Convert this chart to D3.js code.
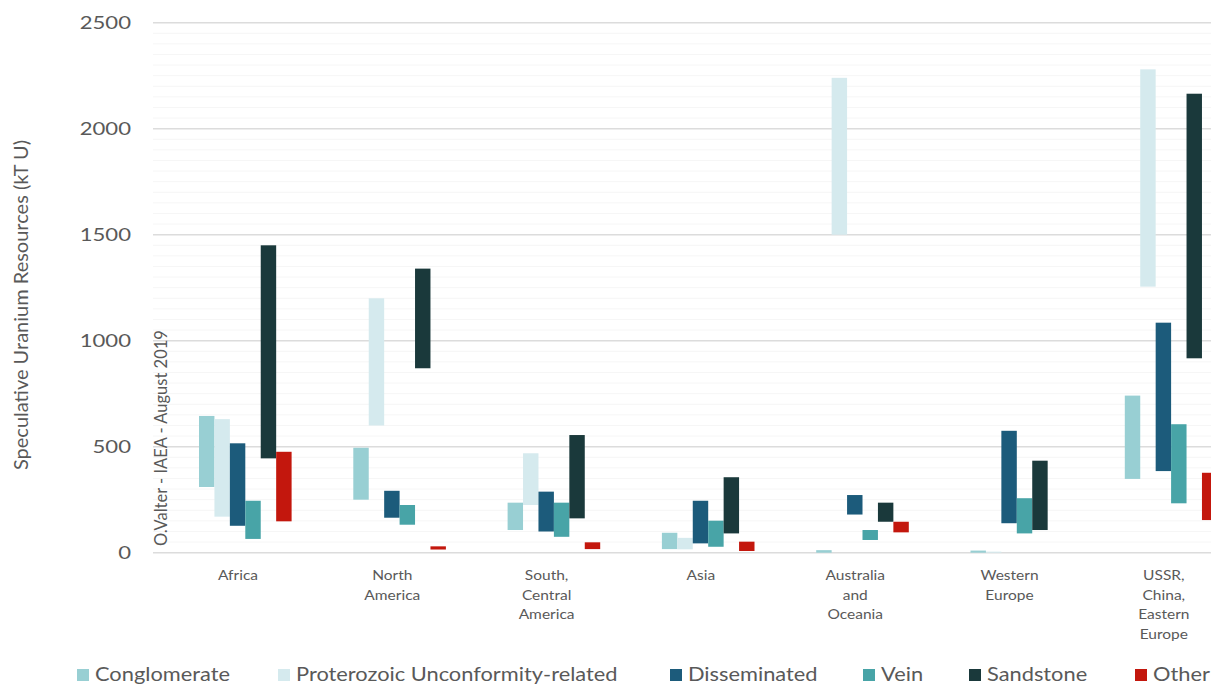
<!DOCTYPE html>
<html><head><meta charset="utf-8">
<script src="https://cdn.jsdelivr.net/npm/d3@7"></script>
<style>
body{margin:0;background:#fff;}
svg{display:block;}
text{font-family:Lato,"Open Sans",sans-serif;fill:#595959;}
</style></head>
<body><svg id="chart" width="1211" height="686"></svg>
<script>
// ---- data ----
const categories = ["Africa","North America","South, Central America","Asia","Australia and Oceania","Western Europe","USSR, China, Eastern Europe"];
const categoryLines = [["Africa"],["North","America"],["South,","Central","America"],["Asia"],["Australia","and","Oceania"],["Western","Europe"],["USSR,","China,","Eastern","Europe"]];
const seriesNames = ["Conglomerate","Proterozoic Unconformity-related","Disseminated","Vein","Sandstone","Other"];
const seriesColors = ["#98cfd3","#d5eaee","#1c5b7b","#48a4a7","#1a393b","#c3170d"];
// [low, high] ranges in kT U, per category
const conglomerate = [[310,645],[250,495],[107,236],[17,94],[0,12],[0,10],[348,741]];
const proterozoic  = [[170,630],[600,1200],[225,469],[16,70],[1500,2240],[0,5],[1255,2280]];
const disseminated = [[127,516],[165,292],[100,288],[44,245],[180,272],[139,575],[385,1085]];
const vein         = [[65,245],[132,225],[75,236],[28,151],[60,107],[91,257],[233,606]];
const sandstone    = [[445,1450],[870,1340],[162,555],[91,356],[146,236],[107,434],[917,2165]];
const other        = [[148,476],[15,30],[17,49],[8,52],[96,146],null,[154,377]];
const seriesValues = [conglomerate,proterozoic,disseminated,vein,sandstone,other];
const yTicks = [0,500,1000,1500,2000,2500];
const yTitle = "Speculative Uranium Resources (kT U)";
const watermark = "O.Valter - IAEA - August 2019";

// ---- layout ----
const svg = d3.select("#chart");
const W = 1211;
const y = d3.scaleLinear().domain([0,2500]).range([552.7,22.7]);
const bandW = 154.3;
const x = d3.scaleBand().domain(categories).range([160.85,160.85+7*bandW]);
const x1 = d3.scaleBand().domain(seriesNames).range([38.15,130.75]);
const gridX0 = 153;

// minor grid
const minor = d3.range(50,2500,50).filter(v=>v%500!==0);
svg.append("g").selectAll("line").data(minor).join("line")
  .attr("x1",gridX0).attr("x2",W).attr("y1",d=>y(d)).attr("y2",d=>y(d))
  .attr("stroke","#f6f6f6").attr("stroke-width",1);
// major grid
svg.append("g").selectAll("line").data(yTicks).join("line")
  .attr("x1",gridX0).attr("x2",W).attr("y1",d=>y(d)).attr("y2",d=>y(d))
  .attr("stroke","#dcdcdc").attr("stroke-width",1.6);

// y axis labels
const yAxis = d3.axisLeft(y).tickValues(yTicks).tickFormat(d3.format("d")).tickSize(0).tickPadding(0);
const ga = svg.append("g").attr("transform","translate(131,0)").call(yAxis);
ga.select(".domain").remove();
ga.selectAll("text").attr("font-family","Lato").attr("font-size",17).attr("fill","#595959")
  .attr("transform","scale(1.3,1)").attr("dy","0.35em").attr("x",0);

// y title
svg.append("text").attr("transform","translate(28,305) rotate(-90)")
  .attr("text-anchor","middle").attr("font-size",20).text(yTitle);

// watermark
svg.append("text").attr("transform","translate(167,546) rotate(-90)")
  .attr("font-size",16.5).attr("fill","#c4c4c4")
  .text(watermark);

// bars
const bars = svg.append("g");
seriesNames.forEach((s,i)=>{
  bars.append("g").attr("fill",seriesColors[i]).selectAll("rect")
    .data(categories.map((c,j)=>({c,r:seriesValues[i][j]})).filter(d=>d.r))
    .join("rect")
    .attr("x",d=>x(d.c)+x1(s))
    .attr("width",x1.bandwidth())
    .attr("y",d=>y(d.r[1]))
    .attr("height",d=>y(d.r[0])-y(d.r[1]));
});

// category labels
const cl = svg.append("g");
categories.forEach((c,j)=>{
  const g = cl.append("g").attr("transform",`translate(${x(c)+x.bandwidth()/2},580) scale(1.15,1)`);
  categoryLines[j].forEach((t,k)=>{
    g.append("text").attr("y",k*19.6).attr("text-anchor","middle")
      .attr("font-size",13.5).text(t);
  });
});

// legend
const legendX = [77,278,670,863,969,1135];
const lg = svg.append("g");
seriesNames.forEach((s,i)=>{
  const g = lg.append("g").attr("transform",`translate(${legendX[i]},675)`);
  g.append("rect").attr("x",0).attr("y",-6).attr("width",12).attr("height",12).attr("fill",seriesColors[i]);
  g.append("g").attr("transform","translate(18,0) scale(1.18,1)")
    .append("text").attr("dy","0.35em").attr("font-size",18.5).text(s);
});
</script></body></html>
